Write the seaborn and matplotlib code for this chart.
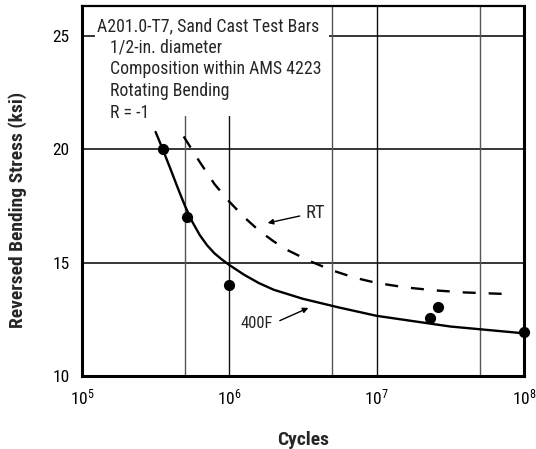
import matplotlib
matplotlib.use("Agg")
import matplotlib.pyplot as plt
from matplotlib import font_manager
from matplotlib.patches import Rectangle
from matplotlib.ticker import FixedLocator, NullFormatter
import seaborn as sns
import pandas as pd

# ---- data -------------------------------------------------------------
curve_400f_cycles = [3.16e5, 3.55e5, 3.98e5, 4.47e5, 5.01e5, 5.62e5, 6.31e5,
                     7.08e5, 7.94e5, 8.91e5, 1.0e6, 1.26e6, 1.58e6, 2.0e6,
                     3.16e6, 5.62e6, 1.0e7, 3.16e7, 1.0e8]
curve_400f_stress = [20.75, 19.95, 19.13, 18.28, 17.48, 16.78, 16.2,
                     15.75, 15.4, 15.13, 14.89, 14.46, 14.1, 13.8,
                     13.4, 13.01, 12.65, 12.18, 11.88]

curve_rt_cycles = [4.9e5, 6.31e5, 7.94e5, 1.0e6, 1.26e6, 1.58e6, 2.0e6,
                   2.51e6, 3.55e6, 5.01e6, 7.08e6, 1.0e7, 1.58e7, 2.51e7,
                   3.98e7, 8.5e7]
curve_rt_stress = [20.55, 19.42, 18.45, 17.68, 17.0, 16.42, 15.93,
                   15.53, 15.05, 14.65, 14.33, 14.1, 13.9, 13.77,
                   13.68, 13.6]

test_cycles = [3.56e5, 5.17e5, 1.0e6, 2.29e7, 2.6e7, 1e8]
test_stress = [20.0, 17.0, 14.0, 12.55, 13.04, 11.94]

x_ticks = [1e5, 1e6, 1e7, 1e8]
x_tick_labels = [r"$\mathregular{10^{5}}$", r"$\mathregular{10^{6}}$",
                 r"$\mathregular{10^{7}}$", r"$\mathregular{10^{8}}$"]
x_minor = [5e5, 5e6, 5e7]
y_ticks = [10, 15, 20, 25]

info_title = "A201.0-T7, Sand Cast Test Bars"
info_lines = ["1/2-in. diameter", "Composition within AMS 4223",
              "Rotating Bending", "R = -1"]

# ---- style ------------------------------------------------------------
sns.set_style("white")
available = {f.name for f in font_manager.fontManager.ttflist}
family = next((f for f in ["Liberation Sans Narrow", "DejaVu Sans Condensed",
                           "Roboto Condensed", "Liberation Sans"]
               if f in available), "DejaVu Sans")
plt.rcParams["font.family"] = [family, "DejaVu Sans"]
plt.rcParams["mathtext.fontset"] = "custom"
plt.rcParams["mathtext.rm"] = family
plt.rcParams["mathtext.it"] = family
plt.rcParams["mathtext.bf"] = family

W, H = 536, 449
fig = plt.figure(figsize=(W / 100, H / 100), dpi=100)
ax = fig.add_axes([82 / W, 1 - 376 / H, (524 - 82) / W, (376 - 6) / H])

def fig_px(x, y):
    return x / W, 1 - y / H

df_400 = pd.DataFrame({"cycles": curve_400f_cycles, "stress": curve_400f_stress})
df_rt = pd.DataFrame({"cycles": curve_rt_cycles, "stress": curve_rt_stress})
df_pts = pd.DataFrame({"cycles": test_cycles, "stress": test_stress})

ax.set_xscale("log")
ax.set_xlim(1e5, 1e8)
ax.set_ylim(10, 26.3)

# grid
for y in [15, 20, 25]:
    ax.axhline(y, color="black", lw=1.1, zorder=1)
for x in x_ticks[1:-1]:
    ax.axvline(x, color="#111111", lw=1.0, zorder=1)
for x in x_minor:
    ax.axvline(x, color="#555555", lw=1.0, zorder=1)

# blank panel behind the condition notes
ax.add_patch(Rectangle((0.029, 0.703), 0.53, 0.297, transform=ax.transAxes,
                       facecolor="white", edgecolor="none", zorder=2))

sns.lineplot(data=df_400, x="cycles", y="stress", ax=ax, color="black",
             lw=1.7, sort=False, zorder=3)
sns.lineplot(data=df_rt, x="cycles", y="stress", ax=ax, color="black",
             lw=1.7, sort=False, dashes=False, zorder=3)
ax.lines[-1].set_dashes((5.5, 5.5))
sns.scatterplot(data=df_pts, x="cycles", y="stress", ax=ax, color="black",
                s=65, edgecolor="black", linewidth=0, zorder=4, clip_on=False)

ax.set_xticks(x_ticks)
ax.set_xticklabels(x_tick_labels)
ax.xaxis.set_minor_locator(FixedLocator(x_minor))
ax.xaxis.set_minor_formatter(NullFormatter())
ax.set_yticks(y_ticks)
ax.set_yticklabels([str(v) for v in y_ticks])
ax.tick_params(axis="both", which="both", length=0, labelsize=12.5, colors="black")
ax.tick_params(axis="x", pad=8)
ax.tick_params(axis="y", pad=9)

for side, lw in [("left", 2.2), ("bottom", 2.2), ("right", 2.2), ("top", 1.6)]:
    ax.spines[side].set_visible(True)
    ax.spines[side].set_linewidth(lw)
    ax.spines[side].set_color("black")

ax.set_xlabel("Cycles", fontsize=14, fontweight="bold", labelpad=0)
ax.set_ylabel("Reversed Bending Stress (ksi)", fontsize=14, fontweight="bold")
ax.xaxis.set_label_coords(0.5, -0.148)
ax.yaxis.set_label_coords(-0.125, 0.45)

# condition notes
fig.text(*fig_px(97, 26), info_title, fontsize=12.8, ha="left", va="center",
         zorder=5)
for i, line in enumerate(info_lines):
    fig.text(*fig_px(110, 48 + i * 21.5), line, fontsize=12.8, ha="left", va="center")

# curve labels
ax.annotate("RT", xy=(1.82e6, 16.74), xytext=(3.3e6, 17.2), fontsize=13.5,
            ha="left", va="center",
            arrowprops=dict(arrowstyle="-|>", color="black", lw=1.0,
                            mutation_scale=8, shrinkA=2, shrinkB=0))
ax.annotate("400F", xy=(3.44e6, 13.0), xytext=(1.97e6, 12.3), fontsize=12,
            ha="right", va="center",
            arrowprops=dict(arrowstyle="-|>", color="black", lw=1.0,
                            mutation_scale=8, shrinkA=3, shrinkB=0,
                            relpos=(1.0, 0.5)))

fig.savefig("out.png", dpi=100, facecolor="white")
